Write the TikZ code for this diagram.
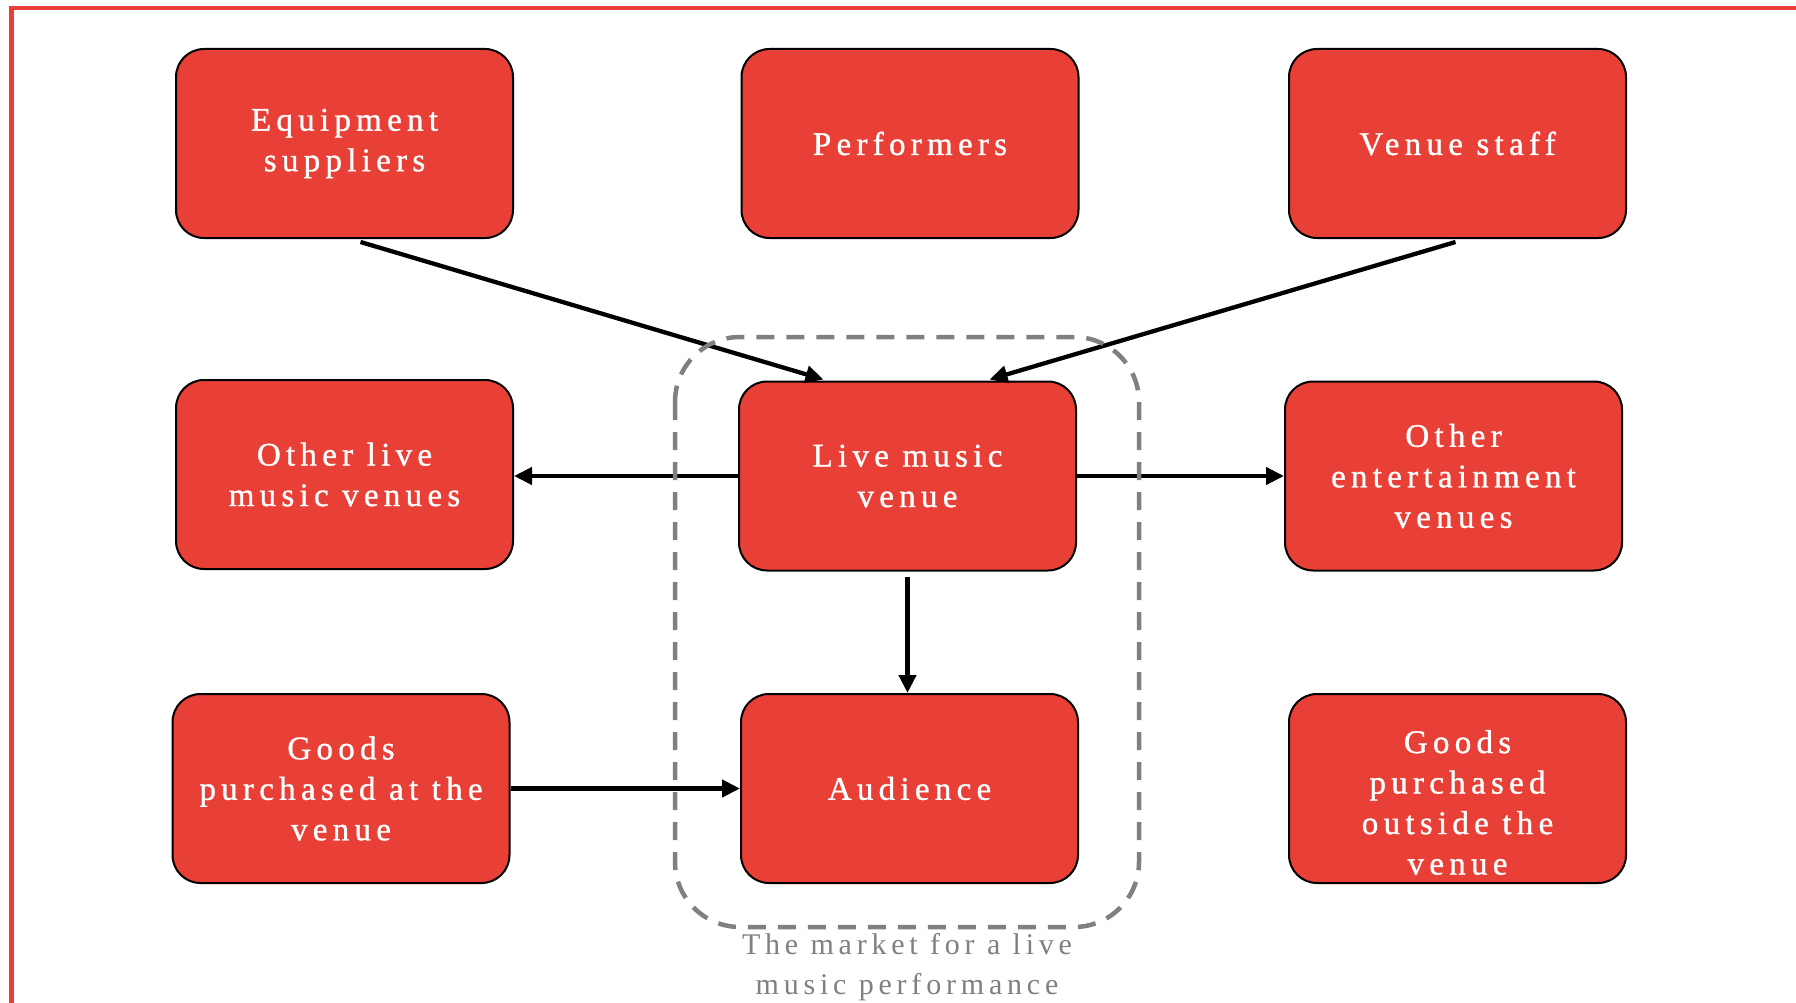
\documentclass[tikz,border=0pt]{standalone}
\usepackage{fontspec}
\setmainfont{Liberation Serif}[LetterSpace=16]
\newfontfamily\boxfont{Liberation Serif}[LetterSpace=16, FakeBold=1]
\usetikzlibrary{arrows.meta,calc}
\definecolor{boxred}{RGB}{232,64,54}
\definecolor{framered}{RGB}{232,64,54}
\definecolor{dashgray}{RGB}{128,128,128}
\tikzset{
  boxnode/.style={draw=black, line width=2pt, fill=boxred, rounded corners=28pt,
    minimum width=337pt, minimum height=189pt, inner sep=0pt, align=center,
    text=white, font=\boxfont\fontsize{33}{40.5}\selectfont},
  flowarrow/.style={draw=black, line width=4.3pt, -{Triangle[length=18pt,width=17pt]}},
  marketline/.style={draw=dashgray, line width=4.5pt, dash pattern=on 18pt off 12pt, rounded corners=65pt},
  marketlabel/.style={text=dashgray, align=center, inner sep=0pt, font=\fontsize{30}{40}\selectfont}
}
\begin{document}
\begin{tikzpicture}[x=1pt,y=-1pt]
\useasboundingbox (0,0) rectangle (1796,1003);
\fill[white] (0,0) rectangle (1796,1003);
\draw[framered, line width=4.5pt] (1796,8) -- (11.5,8) -- (11.5,1003);

\node[boxnode] (eq) at (344.5,143.5) {Equipment\\suppliers};
\node[boxnode] (perf) at (910,143.5) {Performers};
\node[boxnode] (staff) at (1457.5,143.5) {\raisebox{-3pt}{Venue staff}};
\node[boxnode] (olive) at (344.5,474.5) {Other live\\music venues};
\node[boxnode] (live) at (907.5,476) {Live music\\venue};
\node[boxnode] (oent) at (1453.5,476) {Other\\entertainment\\venues};
\node[boxnode] (gven) at (341,788.5) {Goods\\purchased at the\\venue};
\node[boxnode] (aud) at (909.5,788.5) {Audience};
\node[boxnode] (gout) at (1457.5,788.5) {\parbox{330pt}{\centering\vspace*{28pt}Goods\\purchased\\outside the\\venue}};

\draw[flowarrow] ($(eq.south)+(16,3)$) -- ($(live.north)+(-84,-1)$);
\draw[flowarrow] ($(staff.south)+(-2,3)$) -- ($(live.north)+(82,-1)$);
\draw[flowarrow] (live.west) -- (live.west -| olive.east);
\draw[flowarrow] (live.east) -- (live.east -| oent.west);
\draw[flowarrow] ($(live.south)+(0,5)$) -- (live.south |- aud.north);
\draw[flowarrow] (gven.east) -- (gven.east -| aud.west);

\draw[marketline] (675,337) rectangle (1139,927);
\node[marketlabel] (mlabel) at (907,967) {The market for a live\\music performance};
\end{tikzpicture}
\end{document}
